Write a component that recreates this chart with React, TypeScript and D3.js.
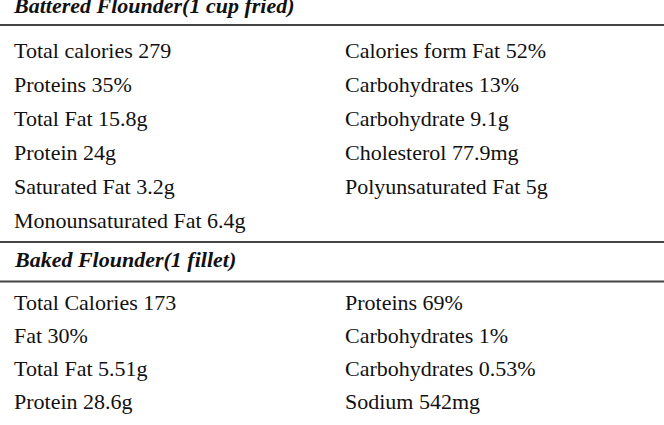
import React from 'react'
import * as d3 from 'd3'

// section titles
const sectionTitles = ['Battered Flounder(1 cup fried)', 'Baked Flounder(1 fillet)']

// battered flounder: two columns of nutrient labels
const batteredLeft = [
  'Total calories 279',
  'Proteins 35%',
  'Total Fat 15.8g',
  'Protein 24g',
  'Saturated Fat 3.2g',
  'Monounsaturated Fat 6.4g'
]
const batteredRight = [
  'Calories form Fat 52%',
  'Carbohydrates 13%',
  'Carbohydrate 9.1g',
  'Cholesterol 77.9mg',
  'Polyunsaturated Fat 5g'
]

// baked flounder
const bakedLeft = ['Total Calories 173', 'Fat 30%', 'Total Fat 5.51g', 'Protein 28.6g']
const bakedRight = ['Proteins 69%', 'Carbohydrates 1%', 'Carbohydrates 0.53%', 'Sodium 542mg']

const W = 664
const H = 425
const FONT = "'Liberation Serif', 'Times New Roman', serif"

function App () {
  // column x positions
  const x = d3.scaleOrdinal<string, number>().domain(['left', 'right']).range([14, 345])

  // row baselines for each block
  const y1 = d3.scaleLinear().domain([0, 5]).range([58, 228])
  const y2 = d3.scaleLinear().domain([0, 3]).range([310, 409])

  const rules = [25, 242, 281.5]

  const cell = (t: string, i: number, col: string, y: d3.ScaleLinear<number, number>) => (
    <text key={col + i} x={x(col)} y={y(i)} fontSize={22} fill='#111'>{t}</text>
  )

  return (
    <svg width={W} height={H} style={{ position: 'absolute', left: 0, top: 0, background: '#fff' }} fontFamily={FONT}>
      <rect width={W} height={H} fill='#fff' />
      <text x={14} y={13} fontSize={22} fontWeight='bold' fontStyle='italic' fill='#111'>{sectionTitles[0]}</text>
      <text x={15} y={267} fontSize={22} fontWeight='bold' fontStyle='italic' fill='#111'>{sectionTitles[1]}</text>
      {rules.map(r => (
        <line key={r} x1={0} x2={W} y1={r} y2={r} stroke='#444' strokeWidth={2.2} />
      ))}
      {batteredLeft.map((t, i) => cell(t, i, 'left', y1))}
      {batteredRight.map((t, i) => cell(t, i, 'right', y1))}
      {bakedLeft.map((t, i) => cell(t, i, 'left', y2))}
      {bakedRight.map((t, i) => cell(t, i, 'right', y2))}
    </svg>
  )
}

export default App
